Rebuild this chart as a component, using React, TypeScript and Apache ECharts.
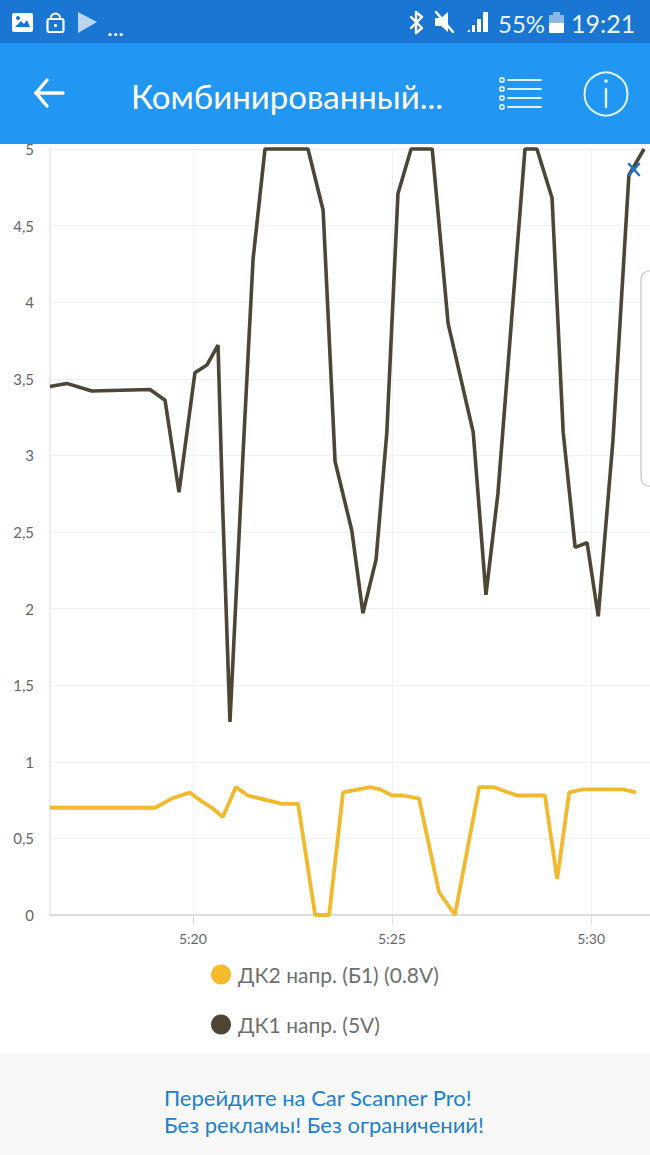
import React, { useEffect, useRef } from "react";
import * as echarts from "echarts";

const darkName = "ДК1 напр. (5V)";
const yellowName = "ДК2 напр. (Б1) (0.8V)";
const xTicks = [320, 325, 330];
const darkTimes = [316.41, 316.83, 317.46, 318.92, 319.3, 319.65, 320.05, 320.35, 320.63, 320.75, 320.93, 321.26, 321.51, 321.81, 322.89, 323.27, 323.57, 323.99, 324.27, 324.6, 324.87, 325.15, 325.48, 326.01, 326.41, 327.04, 327.36, 327.66, 328.34, 328.64, 329.02, 329.3, 329.6, 329.9, 330.18, 330.55, 330.95, 331.33];
const darkValues = [3.45, 3.47, 3.42, 3.43, 3.36, 2.76, 3.54, 3.59, 3.72, 2.64, 1.26, 3.02, 4.28, 5, 5, 4.6, 2.96, 2.51, 1.97, 2.32, 3.15, 4.71, 5, 5, 3.86, 3.15, 2.09, 2.75, 5, 5, 4.68, 3.15, 2.4, 2.43, 1.95, 3.1, 4.83, 5];
const yellowTimes = [316.41, 319.05, 319.47, 319.92, 320.23, 320.48, 320.75, 321.08, 321.38, 322.24, 322.64, 323.07, 323.42, 323.77, 324.45, 324.7, 325, 325.28, 325.68, 326.18, 326.58, 327.19, 327.54, 328.14, 328.84, 329.15, 329.45, 329.8, 330.8, 331.13];
const yellowValues = [0.7, 0.7, 0.76, 0.8, 0.74, 0.7, 0.64, 0.835, 0.78, 0.725, 0.725, 0, 0, 0.8, 0.835, 0.82, 0.78, 0.78, 0.76, 0.15, 0, 0.835, 0.835, 0.78, 0.78, 0.235, 0.8, 0.82, 0.82, 0.8];

const FONT = "Lato, 'Open Sans', sans-serif";
const TOP = 100;

const rect = (x: number, y: number, width: number, height: number, fill: string, r = 0, stroke?: string, lineWidth = 0, z = TOP) => ({
  type: "rect", z, silent: true, shape: { x, y, width, height, r },
  style: { fill, stroke, lineWidth },
});
const line = (x1: number, y1: number, x2: number, y2: number, stroke: string, lineWidth: number, z = TOP + 1) => ({
  type: "line", z, silent: true, shape: { x1, y1, x2, y2 }, style: { stroke, lineWidth, lineCap: "round" },
});
const poly = (points: number[][], fill: string, z = TOP + 1) => ({
  type: "polygon", z, silent: true, shape: { points }, style: { fill },
});
const pline = (points: number[][], stroke: string, lineWidth: number, z = TOP + 1) => ({
  type: "polyline", z, silent: true, shape: { points }, style: { stroke, lineWidth, fill: "none", lineJoin: "round", lineCap: "round" },
});
const text = (x: number, y: number, t: string, fontSize: number, fill: string, align = "left", z = TOP + 1) => ({
  type: "text", z, silent: true, x, y,
  style: { text: t, fontSize, fontFamily: FONT, fill, align, verticalAlign: "middle" },
});

const graphics: any[] = [
  rect(0, 0, 650, 43, "#1976d2"),
  rect(0, 43, 650, 101, "#2196f3"),
  rect(0, 1053, 650, 102, "#f8f8f8", 0, undefined, 0, 1),
  rect(641, 271, 30, 215, "#ffffff", 8, "#c4c4c4", 1.2, 5),
  // status bar icons
  rect(12, 13, 21, 19, "#ffffff", 2),
  poly([[15, 27], [21, 21], [24, 24], [27, 20], [30, 27]], "#1976d2"),
  { type: "circle", z: TOP + 1, silent: true, shape: { cx: 18, cy: 18, r: 2 }, style: { fill: "#1976d2" } },
  rect(47.5, 19, 16, 13, "none", 2, "#ffffff", 2.2, TOP + 1),
  { type: "arc", z: TOP + 1, silent: true, shape: { cx: 55.5, cy: 18, r: 4.5, startAngle: Math.PI, endAngle: 0 }, style: { stroke: "#ffffff", lineWidth: 2, fill: "none" } },
  rect(54, 24, 3, 3, "#ffffff", 1, undefined, 0, TOP + 1),
  poly([[78, 12], [97, 22], [78, 33]], "#b9d5f0"),
  text(107, 26, "...", 24, "#ffffff"),
  pline([[411, 17], [422, 28], [416, 33], [416, 12], [422, 17], [411, 28]], "#ffffff", 2.4),
  poly([[435, 18], [441, 18], [448, 12], [448, 32], [441, 26], [435, 26]], "#ffffff"),
  line(436, 12, 453, 32, "#ffffff", 2.4),
  poly([[467, 32], [470, 29], [470, 32]], "#ffffff"),
  rect(472, 25, 3, 7, "#ffffff", 0, undefined, 0, TOP + 1),
  rect(477, 19, 4, 13, "#ffffff", 0, undefined, 0, TOP + 1),
  rect(483, 12, 5, 20, "#ffffff", 0, undefined, 0, TOP + 1),
  text(498, 23, "55%", 24, "#e8f2fb"),
  rect(549, 15, 15, 18, "#ffffff", 1, undefined, 0, TOP + 1),
  rect(549, 15, 15, 8, "#8db8e4", 0, undefined, 0, TOP + 2),
  rect(553, 12, 7, 3, "#8db8e4", 0, undefined, 0, TOP + 1),
  text(571, 23, "19:21", 25, "#e8f2fb"),
  // toolbar
  pline([[47, 80], [36, 93], [47, 106]], "#ffffff", 3.4),
  line(36, 93, 63, 93, "#ffffff", 3.4),
  text(131, 96, "Комбинированный...", 33, "#ffffff"),
  ...[80, 89, 98, 107].flatMap((y) => [
    rect(500, y - 2, 4, 4, "none", 1, "#ffffff", 1.4, TOP + 1),
    line(508, y, 541, y, "#e3f1fd", 1.8),
  ]),
  { type: "circle", z: TOP + 1, silent: true, shape: { cx: 606, cy: 94, r: 21.5 }, style: { fill: "none", stroke: "#e3f1fd", lineWidth: 2 } },
  line(606, 89, 606, 107, "#e3f1fd", 2.4),
  { type: "circle", z: TOP + 1, silent: true, shape: { cx: 606, cy: 81, r: 1.8 }, style: { fill: "#e3f1fd" } },
  // marker
  line(629, 164, 639, 175, "#1f74c8", 2.6, 50),
  line(639, 164, 629, 175, "#1f74c8", 2.6, 50),
  // promo
  text(164, 1097, "Перейдите на Car Scanner Pro!", 22, "#2180d0"),
  text(164, 1124, "Без рекламы! Без ограничений!", 22, "#2180d0"),
];

const zip = (xs: number[], ys: number[]) => xs.map((x, i) => [x, ys[i]]);

export default function App() {
  const ref = useRef<HTMLDivElement>(null);
  useEffect(() => {
    const chart = echarts.init(ref.current!, undefined, { renderer: "svg" });
    chart.setOption({
      animation: false,
      backgroundColor: "#ffffff",
      textStyle: { fontFamily: FONT },
      grid: { left: 50, right: 0, top: 149, bottom: 240, containLabel: false },
      legend: {
        orient: "vertical",
        left: 206,
        top: 959,
        itemGap: 29,
        itemWidth: 20,
        itemHeight: 22,
        icon: "circle",
        data: [yellowName, darkName],
        textStyle: { fontSize: 21, color: "#6f6f6f", fontFamily: FONT, padding: [2, 0, 0, 2] },
      },
      xAxis: {
        type: "value",
        min: 316.41,
        max: 331.48,
        axisLine: { show: true, lineStyle: { color: "#dddddd", width: 2 } },
        axisTick: { show: true, length: 10, customValues: xTicks, lineStyle: { color: "#dddddd" } },
        axisLabel: {
          customValues: xTicks,
          margin: 16,
          fontSize: 14,
          color: "#666666",
          fontFamily: FONT,
          formatter: (v: number) => `5:${v - 300}`,
        },
        splitLine: { show: true, lineStyle: { color: "#f1f1f1", width: 1 } },
      },
      yAxis: {
        type: "value",
        min: 0,
        max: 5,
        interval: 0.5,
        axisLine: { show: true, lineStyle: { color: "#ececec", width: 2 } },
        axisTick: { show: false },
        axisLabel: {
          margin: 16,
          fontSize: 15,
          color: "#666666",
          fontFamily: FONT,
          formatter: (v: number) => String(v).replace(".", ","),
        },
        splitLine: { show: true, lineStyle: { color: "#f1f1f1", width: 1 } },
      },
      series: [
        {
          name: yellowName,
          type: "line",
          symbol: "none",
          clip: false,
          data: zip(yellowTimes, yellowValues),
          itemStyle: { color: "#f6bb2c" },
          lineStyle: { color: "#f2b92f", width: 3.8 },
        },
        {
          name: darkName,
          type: "line",
          symbol: "none",
          clip: false,
          data: zip(darkTimes, darkValues),
          itemStyle: { color: "#4d4637" },
          lineStyle: { color: "#4d4637", width: 3.6 },
        },
      ],
      graphic: { elements: graphics },
    });
    return () => chart.dispose();
  }, []);
  return <div ref={ref} style={{ position: "absolute", left: 0, top: 0, width: 650, height: 1155 }} />;
}
